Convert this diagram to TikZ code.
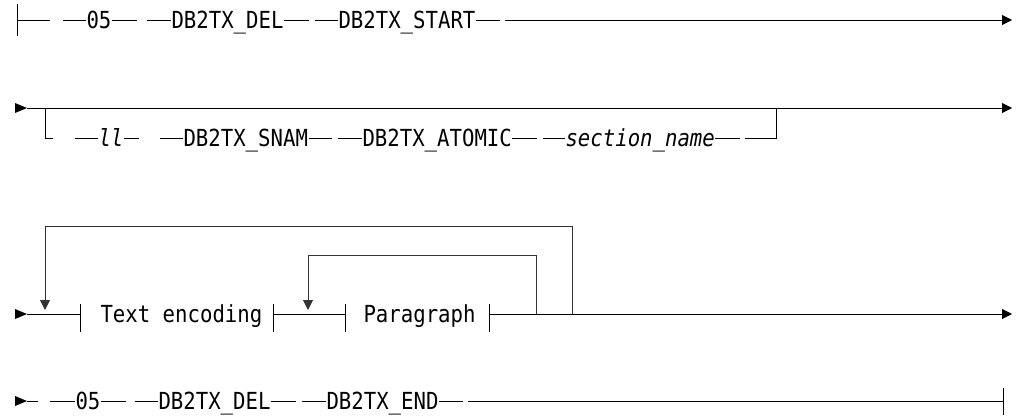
\documentclass[tikz,border=0pt]{standalone}
\usepackage{fontspec}
\setmonofont[FakeStretch=0.88]{DejaVu Sans Mono}
\usetikzlibrary{arrows.meta}

\begin{document}
\begin{tikzpicture}[x=1pt, y=-1pt, line width=1pt, line cap=butt,
    every node/.style={font=\ttfamily\fontsize{23.5}{23.5}\selectfont, inner sep=0pt,
      text height=16pt, text depth=0pt, anchor=west},
    tip/.style={-{Triangle[length=10pt,width=10pt]}},
    loopline/.style={draw=black!80}]
  \useasboundingbox (0,0) rectangle (1029,416);
  % Row 1: start
  \draw (17,4) -- (17,36);
  \draw (17,20) -- (50,20);
  \draw (63,20) -- (86,20) node (num1) {05};
  \draw (num1.east) -- ++(25,0);
  \draw (147,20) -- (171,20) node (del1) {DB2TX\_DEL};
  \draw (del1.east) -- ++(25,0);
  \draw (315,20) -- (338,20) node (start) {DB2TX\_START};
  \draw (start.east) -- ++(24,0);
  \draw[tip] (505,20) -- (1012,20);
  % Row 2: optional group
  \fill (15,103) -- (27,108) -- (15,113) -- cycle;
  \coordinate (s2) at (27,108);
  \draw[tip] (s2) -- (1012,108);
  \draw (45,108) -- (45,138) -- (53,138);
  \draw (75,138) -- (98,138) node (ll) {\itshape ll};
  \draw (ll.east) -- ++(15,0);
  \draw (160,138) -- (183,138) node (snam) {DB2TX\_SNAM};
  \draw (snam.east) -- ++(23,0);
  \draw (338,138) -- (362,138) node (atomic) {DB2TX\_ATOMIC};
  \draw (atomic.east) -- ++(25,0);
  \draw (543,138) -- (565,138) node (secname) {\itshape section\_name};
  \draw (secname.east) -- ++(25,0);
  \draw (745,138) -- (776,138) -- (776,108);
  % Row 3: repeated fragments
  \fill (15,309) -- (27,314) -- (15,319) -- cycle;
  \coordinate (s3) at (27,314);
  \draw (s3) -- (80,314);
  \draw (80,304) -- (80,332);
  \node (txtenc) at (100,314) {Text encoding};
  \draw (273,304) -- (273,332);
  \draw (273,314) -- (345,314);
  \draw (345,304) -- (345,332);
  \node (para) at (363,314) {Paragraph};
  \draw (489,304) -- (489,332);
  \draw[tip] (489,314) -- (1012,314);
  % repeat loops
  \draw[loopline, tip] (572,314) -- (572,226) -- (45,226) -- (45,310);
  \draw[loopline, tip] (536,314) -- (536,255) -- (308,255) -- (308,310);
  % Row 4: end
  \fill (15,396) -- (27,401) -- (15,406) -- cycle;
  \coordinate (s4) at (27,401);
  \draw (s4) -- (38,401);
  \draw (50,401) -- (75,401) node (num2) {05};
  \draw (num2.east) -- ++(25,0);
  \draw (135,401) -- (158,401) node (del2) {DB2TX\_DEL};
  \draw (del2.east) -- ++(25,0);
  \draw (302,401) -- (326,401) node (stop) {DB2TX\_END};
  \draw (stop.east) -- ++(24,0);
  \draw (468,401) -- (1003,401);
  \draw (1003,388) -- (1003,415);
\end{tikzpicture}
\end{document}
